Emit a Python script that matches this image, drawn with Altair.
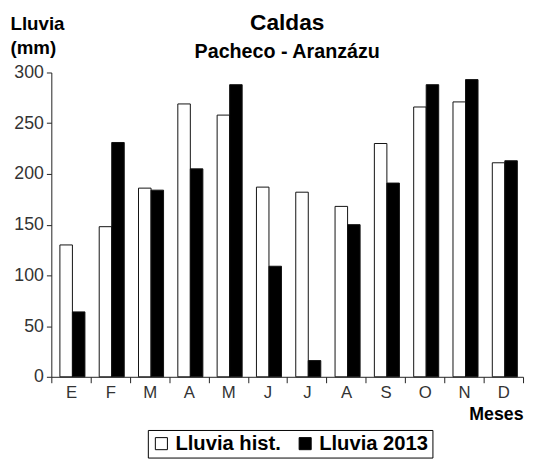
import altair as alt
import pandas as pd

meses = ["E", "F", "M", "A", "M ", "J", "J ", "A ", "S", "O", "N", "D"]
hist = [130, 148, 186, 269, 258, 187, 182, 168, 230, 266, 271, 211]
y2013 = [64, 231, 184, 205, 288, 109, 16, 150, 191, 288, 293, 213]
series = ["Lluvia hist.", "Lluvia 2013"]
titulo = "Caldas"
subtitulo = "Pacheco - Aranzázu"

rows = []
for i, m in enumerate(meses):
    rows.append({"mes": m, "serie": series[0], "v": hist[i], "i": i})
    rows.append({"mes": m, "serie": series[1], "v": y2013[i], "i": i})
df = pd.DataFrame(rows)

FONT = "Liberation Sans"
W, H = 479, 309

bars = alt.Chart(df).mark_bar(stroke="#111", strokeWidth=1).encode(
    x=alt.X("mes:N", sort=meses,
            scale=alt.Scale(paddingInner=0, paddingOuter=0),
            axis=alt.Axis(title="Meses", tickBand="extent", labelAngle=0,
                          labelExpr="trim(datum.label)",
                          titleAnchor="end", titleAlign="right", titleX=W, titleY=43,
                          titleBaseline="alphabetic", titleFontSize=18)),
    xOffset=alt.XOffset("serie:N", sort=series,
                        scale=alt.Scale(paddingInner=0, paddingOuter=0.57, align=0.6)),
    y=alt.Y("v:Q", scale=alt.Scale(domain=[0, 300], nice=False),
            axis=alt.Axis(title=["Lluvia", "(mm)"], values=[0, 50, 100, 150, 200, 250, 300],
                          titleAngle=0, titleAlign="left", titleBaseline="alphabetic",
                          titleX=-42, titleY=-44, titleLineHeight=25, titleFontSize=19)),
    fill=alt.Fill("serie:N", sort=series,
                  scale=alt.Scale(domain=series, range=["white", "black"]),
                  legend=alt.Legend(title=None, orient="none", direction="horizontal",
                                    legendX=98, legendY=363, strokeColor="black",
                                    padding=3.5, symbolType="square", symbolSize=150,
                                    symbolStrokeColor="black", symbolStrokeWidth=1,
                                    labelFontSize=20.5, labelFontWeight="bold",
                                    labelFont=FONT, labelColor="black",
                                    columnPadding=14, labelOffset=4, offset=0)),
)

tdf = pd.DataFrame({"t": [titulo]})
sdf = pd.DataFrame({"t": [subtitulo]})
t1 = alt.Chart(tdf).mark_text(font=FONT, fontSize=23, fontWeight="bold", color="black",
                              align="center", baseline="alphabetic").encode(
    text="t:N", x=alt.value(W / 2), y=alt.value(-43))
t2 = alt.Chart(sdf).mark_text(font=FONT, fontSize=20, fontWeight="bold", color="black",
                              align="center", baseline="alphabetic").encode(
    text="t:N", x=alt.value(W / 2), y=alt.value(-15))

chart = alt.layer(bars, t1, t2).properties(
    width=W, height=H,
    autosize=alt.AutoSizeParams(type="none"),
    padding={"left": 44, "top": 62, "right": 3, "bottom": 82},
).configure_view(stroke=None).configure_axis(
    domainColor="#222", tickColor="#222", labelColor="#333",
    labelFont=FONT, labelFontSize=18, titleFont=FONT, titleFontSize=18,
    titleFontWeight="bold", titleColor="black", grid=False, tickSize=5,
    labelPadding=3,
).configure_axisX(tickSize=6, labelPadding=2, labelFontSize=17)

chart.save("out.html", embed_options={"renderer": "svg", "actions": False})
